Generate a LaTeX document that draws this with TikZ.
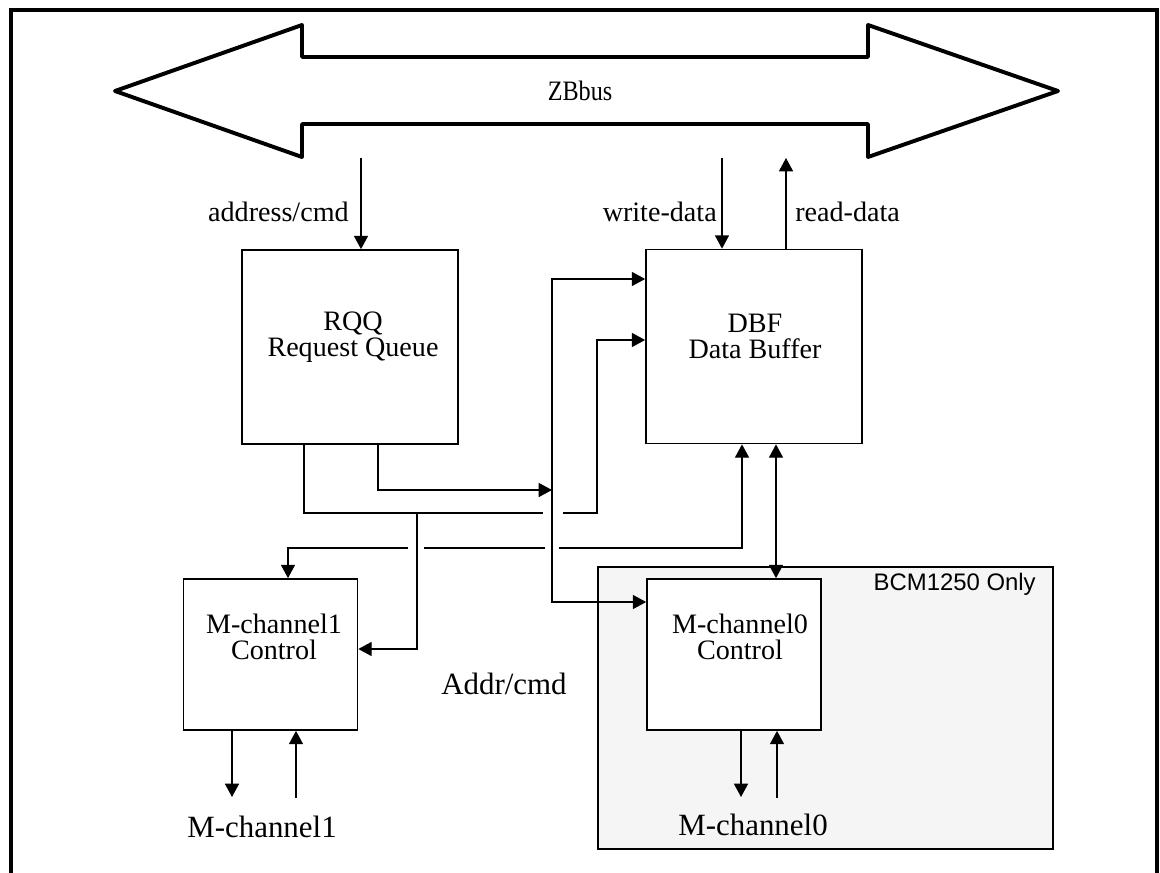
\documentclass[tikz,border=0pt]{standalone}
\usepackage{fontspec}
\setmainfont{Liberation Serif}
\newfontfamily\helv{Liberation Sans}
\usetikzlibrary{arrows.meta,calc}

\tikzset{
  blk/.style={draw, line width=1.2pt, minimum width=54mm, minimum height=48.5mm, inner sep=0pt},
  mblk/.style={blk, fill=white, minimum width=43.5mm, minimum height=37.75mm},
  txt/.style={font=\fontsize{20}{18.5}\selectfont, align=center, inner sep=0pt},
  lbl/.style={font=\fontsize{20}{24}\selectfont, inner sep=0pt},
  biglbl/.style={font=\fontsize{22}{26}\selectfont, inner sep=0pt},
  conn/.style={line width=1pt},
}

\begin{document}
\begin{tikzpicture}[x=0.25mm, y=-0.25mm, >={Triangle[length=9.5pt,width=10pt]}]

    \useasboundingbox (0,0) rectangle (1160,872);

    % Outer frame (open at the bottom)
    \draw[line width=2.4pt] (11,880) -- (11,10) -- (1157,10) -- (1157,880);

    % The ZBbus double arrow
    \draw[line width=2.8pt, line join=round] (115,91) -- (302,25) -- (302,57) -- (868,57) -- (868,25)
        -- (1058,91) -- (868,157) -- (868,124) -- (302,124) -- (302,157) -- cycle;
    \node[font=\fontsize{20}{24}\selectfont, xscale=0.86] (zb) at (580,91) {ZBbus};

    % Shaded area of the BCM1250
    \node[draw, line width=1.6pt, fill=gray!8, minimum width=113.75mm, minimum height=70.5mm,
        inner sep=0pt] (only) at (825.5,708) {};
    \node[font=\helv\fontsize{17}{20}\selectfont, anchor=base east, inner sep=0pt] (onlylbl)
        at (1036,590) {BCM1250 Only};

    % The blocks
    \node[blk] (rqq) at (350,347) {};
    \node[blk] (dbf) at (754,346.5) {};
    \node[mblk] (mc1) at (270.5,654.5) {};
    \node[mblk] (mc0) at (734,654.5) {};

    \node[txt] (rqqtxt) at (353,337) {RQQ\\Request Queue};
    \node[txt] (dbftxt) at (755,336) {DBF\\Data Buffer};
    \node[txt] (mc1txt) at (274,637) {M-channel1\\Control};
    \node[txt] (mc0txt) at (740,637) {M-channel0\\Control};

    % Lines from and to the bus
    \coordinate (ad) at (361,158);
    \coordinate (wd) at (722,158);
    \coordinate (rd) at (786,158);
    \draw[conn,->] (ad) -- (ad |- rqq.north);
    \draw[conn,->] (wd) -- (wd |- dbf.north);
    \draw[conn,->] (rd |- dbf.north) -- (rd);

    \node[lbl, anchor=east] (adlbl) at (349,212) {address/cmd};
    \node[lbl, anchor=east] (wdlbl) at (717,212) {write-data};
    \node[lbl, anchor=west] (rdlbl) at (795,212) {read-data};

    % Addr/cmd line to DBF and M-channel0
    \coordinate (vtop) at (552,279);
    \coordinate (vbot) at (552,602);
    \draw[conn,<->] (vtop -| dbf.west) -- (vtop) -- (vbot) -- (vbot -| mc0.west);
    \node[biglbl, anchor=base west] (addr) at (441,694) {Addr/cmd};

    % First RQQ output
    \coordinate (qa) at (378,490);
    \draw[conn,->] (qa |- rqq.south) -- (qa) -- (vtop |- qa);

    % Second RQQ output, to DBF and M-channel1
    \coordinate (qb) at (304,513);
    \coordinate (br) at (417,513);
    \coordinate (dd) at (597,340);
    \draw[conn] (qb |- rqq.south) -- (qb) -- ($ (vbot |- qb) + (-9,0) $);
    \draw[conn,->] ($ (vbot |- qb) + (11,0) $) -| (dd) -- (dd -| dbf.west);
    \draw[conn,->] (br) -- ($ (br |- mc1.east) + (0,-5.5) $) -- ($ (mc1.east) + (0,-5.5) $);

    % Data between DBF and M-channel1
    \coordinate (da) at (742,548);
    \coordinate (db) at (288,548);
    \draw[conn,<-] (da |- dbf.south) -- (da) -- ($ (vbot |- da) + (7,0) $);
    \draw[conn] ($ (vbot |- da) + (-7,0) $) -- ($ (br |- da) + (7,0) $);
    \draw[conn,->] ($ (br |- da) + (-9,0) $) -- (db) -- (db |- mc1.north);

    % Data between DBF and M-channel0
    \coordinate (dc) at (776,444);
    \draw[conn,<->] (dc |- dbf.south) -- (dc |- mc0.north);

    % Memory channel pins
    \coordinate (p1) at (232,797);
    \coordinate (p2) at (296,798);
    \coordinate (p3) at (741,797);
    \coordinate (p4) at (777,798);
    \draw[conn,->] (p1 |- mc1.south) -- (p1);
    \draw[conn,->] (p2) -- (p2 |- mc1.south);
    \draw[conn,->] (p3 |- mc0.south) -- (p3);
    \draw[conn,->] (p4) -- (p4 |- mc0.south);

    \node[biglbl, anchor=base] (ch1) at (262,837) {M-channel1};
    \node[biglbl, anchor=base] (ch0) at (753,835) {M-channel0};

\end{tikzpicture}
\end{document}
